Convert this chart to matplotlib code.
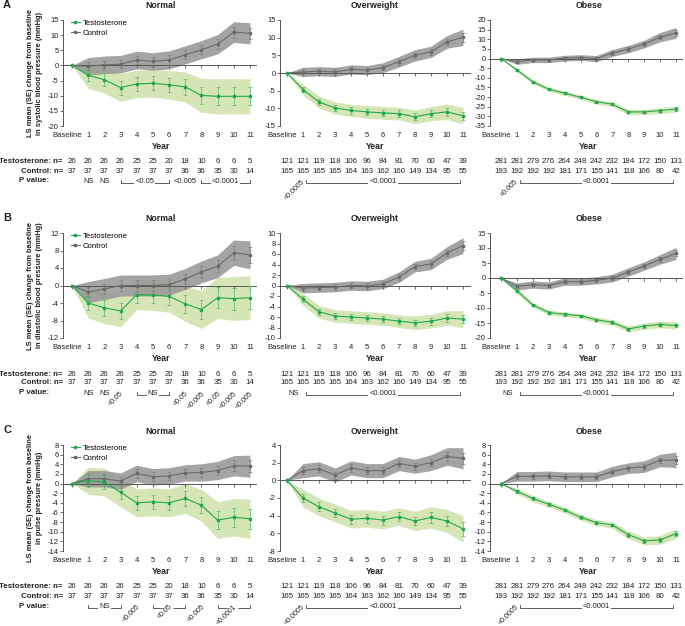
import numpy as np
import matplotlib
matplotlib.use("Agg")
import matplotlib.pyplot as plt
from matplotlib.lines import Line2D

plt.rcParams["font.family"] = ["Liberation Sans", "DejaVu Sans"]
plt.rcParams["axes.unicode_minus"] = False

# -----------------------------
# Data
# -----------------------------
years = np.arange(12)
year_labels = ["Baseline"] + [str(i) for i in range(1, 12)]

# A: systolic blood pressure
sbp_normal_t = [0, -3.3, -4.7, -7.3, -6.1, -5.9, -6.4, -7.1, -9.9, -10.2, -10.2, -10.2]
sbp_normal_t_se = [0, 2.0, 2.1, 2.3, 2.2, 2.3, 2.4, 2.5, 2.8, 3.0, 3.0, 3.0]
sbp_normal_t_ci = [0, 4.3, 4.4, 4.6, 4.5, 4.6, 4.7, 5.0, 5.6, 5.8, 5.8, 5.8]
sbp_normal_c = [0, -0.3, 0.2, 0.4, 1.8, 1.3, 1.8, 3.5, 5.2, 7.0, 11.0, 10.6]
sbp_normal_c_se = [0, 1.3, 1.4, 1.4, 1.4, 1.4, 1.5, 1.5, 1.5, 1.6, 1.8, 1.9]
sbp_normal_c_ci = [0, 2.9, 2.9, 2.9, 2.9, 2.9, 3.0, 3.0, 3.0, 3.2, 3.4, 3.5]

sbp_overweight_t = [0, -4.7, -8.2, -9.9, -10.6, -11.0, -11.3, -11.5, -12.4, -11.5, -11.0, -12.1]
sbp_overweight_t_se = [0, 0.8, 0.9, 0.9, 0.9, 0.9, 0.9, 0.9, 1.0, 1.0, 1.1, 1.2]
sbp_overweight_t_ci = [0, 1.5, 1.7, 1.7, 1.7, 1.8, 1.8, 1.8, 1.9, 2.0, 2.2, 2.3]
sbp_overweight_c = [0, 0.3, 0.5, 0.3, 1.0, 0.8, 1.5, 3.2, 5.0, 6.0, 8.8, 10.1]
sbp_overweight_c_se = [0, 0.7, 0.7, 0.7, 0.7, 0.7, 0.7, 0.8, 0.8, 0.8, 0.9, 1.2]
sbp_overweight_c_ci = [0, 1.3, 1.3, 1.3, 1.3, 1.3, 1.4, 1.5, 1.6, 1.6, 1.8, 2.3]

sbp_obese_t = [0, -5.9, -12.1, -15.9, -18.0, -20.1, -22.4, -23.7, -27.7, -27.7, -27.0, -26.2]
sbp_obese_t_se = [0, 0.5, 0.5, 0.5, 0.5, 0.6, 0.6, 0.6, 0.7, 0.7, 0.8, 0.8]
sbp_obese_t_ci = [0, 1.0, 1.0, 1.0, 1.1, 1.1, 1.2, 1.2, 1.4, 1.4, 1.5, 1.6]
sbp_obese_c = [0, -1.6, -0.7, -0.7, 0.2, 0.5, 0.0, 2.9, 4.9, 7.5, 11.1, 13.3]
sbp_obese_c_se = [0, 0.7, 0.7, 0.7, 0.8, 0.8, 0.8, 0.9, 1.0, 1.0, 1.2, 1.4]
sbp_obese_c_ci = [0, 1.4, 1.4, 1.4, 1.5, 1.5, 1.6, 1.8, 1.9, 2.0, 2.4, 2.8]

# B: diastolic blood pressure
dbp_normal_t = [0, -4.0, -5.1, -5.8, -2.1, -2.2, -2.5, -4.2, -5.5, -2.8, -3.0, -2.8]
dbp_normal_t_se = [0, 1.7, 1.8, 1.9, 1.8, 1.8, 1.9, 2.0, 2.2, 2.4, 2.5, 2.6]
dbp_normal_t_ci = [0, 3.4, 3.6, 3.6, 3.4, 3.5, 3.6, 4.0, 4.3, 4.7, 5.0, 5.0]
dbp_normal_c = [0, -1.5, -0.8, 0.0, 0.0, 0.0, 0.2, 1.5, 3.1, 4.4, 7.5, 7.0]
dbp_normal_c_se = [0, 1.2, 1.2, 1.2, 1.2, 1.2, 1.2, 1.2, 1.3, 1.4, 1.6, 1.8]
dbp_normal_c_ci = [0, 2.4, 2.4, 2.4, 2.4, 2.4, 2.4, 2.4, 2.5, 2.6, 2.9, 3.2]

dbp_overweight_t = [0, -2.6, -5.0, -5.8, -6.0, -6.2, -6.4, -6.8, -7.1, -6.8, -6.2, -6.4]
dbp_overweight_t_se = [0, 0.6, 0.6, 0.6, 0.6, 0.6, 0.6, 0.6, 0.6, 0.7, 0.7, 0.8]
dbp_overweight_t_ci = [0, 1.1, 1.2, 1.2, 1.2, 1.2, 1.2, 1.2, 1.3, 1.3, 1.4, 1.6]
dbp_overweight_c = [0, -0.5, -0.4, -0.3, 0.0, -0.1, 0.3, 1.6, 3.6, 4.1, 6.2, 7.6]
dbp_overweight_c_se = [0, 0.5, 0.5, 0.5, 0.5, 0.5, 0.5, 0.5, 0.5, 0.5, 0.6, 0.8]
dbp_overweight_c_ci = [0, 0.9, 0.9, 0.9, 0.9, 0.9, 0.9, 1.0, 1.0, 1.1, 1.2, 1.5]

dbp_obese_t = [0, -4.3, -9.0, -11.5, -12.1, -12.6, -13.9, -14.8, -17.0, -16.0, -15.5, -15.8]
dbp_obese_t_se = [0, 0.4, 0.4, 0.4, 0.4, 0.4, 0.4, 0.4, 0.5, 0.5, 0.6, 0.6]
dbp_obese_t_ci = [0, 0.8, 0.8, 0.8, 0.8, 0.8, 0.9, 0.9, 1.0, 1.0, 1.1, 1.2]
dbp_obese_c = [0, -2.8, -2.2, -2.5, -1.2, -1.2, -0.8, 0.0, 2.0, 4.0, 6.2, 8.2]
dbp_obese_c_se = [0, 0.6, 0.6, 0.6, 0.6, 0.6, 0.6, 0.6, 0.7, 0.7, 0.8, 1.0]
dbp_obese_c_ci = [0, 1.2, 1.2, 1.2, 1.2, 1.2, 1.2, 1.3, 1.4, 1.4, 1.6, 2.0]

# C: pulse pressure
pp_normal_t = [0, 0.6, 0.3, -1.8, -4.0, -3.8, -4.0, -3.1, -4.5, -7.6, -7.0, -7.3]
pp_normal_t_se = [0, 1.4, 1.5, 1.5, 1.5, 1.5, 1.5, 1.6, 1.7, 1.9, 2.0, 2.1]
pp_normal_t_ci = [0, 2.8, 2.9, 3.0, 2.9, 2.9, 2.9, 3.1, 3.3, 3.8, 3.9, 4.1]
pp_normal_c = [0, 1.0, 1.0, 0.5, 2.1, 1.4, 1.6, 2.2, 2.3, 2.7, 3.7, 3.6]
pp_normal_c_se = [0, 0.9, 0.9, 0.9, 0.9, 0.9, 0.9, 0.9, 0.9, 1.0, 1.1, 1.2]
pp_normal_c_ci = [0, 1.7, 1.7, 1.7, 1.7, 1.7, 1.7, 1.7, 1.8, 1.9, 2.1, 2.3]

pp_overweight_t = [0, -2.0, -3.0, -3.7, -4.4, -4.3, -4.5, -4.1, -4.6, -4.2, -4.6, -5.5]
pp_overweight_t_se = [0, 0.5, 0.5, 0.5, 0.5, 0.5, 0.5, 0.5, 0.5, 0.6, 0.6, 0.8]
pp_overweight_t_ci = [0, 1.0, 1.0, 1.0, 1.0, 1.0, 1.0, 1.0, 1.1, 1.2, 1.3, 1.5]
pp_overweight_c = [0, 1.1, 1.3, 0.6, 1.4, 1.1, 1.1, 1.9, 1.6, 2.0, 2.7, 2.5]
pp_overweight_c_se = [0, 0.4, 0.4, 0.4, 0.4, 0.4, 0.4, 0.4, 0.4, 0.4, 0.5, 0.6]
pp_overweight_c_ci = [0, 0.8, 0.8, 0.8, 0.8, 0.8, 0.8, 0.8, 0.8, 0.9, 1.0, 1.2]

pp_obese_t = [0, -1.6, -3.1, -4.3, -5.5, -7.0, -8.1, -8.6, -10.6, -11.9, -11.7, -10.4]
pp_obese_t_se = [0, 0.3, 0.3, 0.3, 0.3, 0.3, 0.3, 0.3, 0.4, 0.4, 0.5, 0.5]
pp_obese_t_ci = [0, 0.6, 0.6, 0.6, 0.6, 0.6, 0.6, 0.7, 0.8, 0.8, 0.9, 1.0]
pp_obese_c = [0, 1.5, 1.5, 1.6, 1.4, 1.4, 1.4, 2.5, 3.2, 3.5, 4.8, 4.9]
pp_obese_c_se = [0, 0.5, 0.5, 0.5, 0.5, 0.5, 0.5, 0.5, 0.5, 0.6, 0.6, 0.8]
pp_obese_c_ci = [0, 1.0, 1.0, 1.0, 1.0, 1.0, 1.0, 1.1, 1.1, 1.2, 1.3, 1.6]

# patient numbers (same in every row)
normal_n_t = [26, 26, 26, 26, 25, 25, 20, 18, 10, 6, 6, 5]
normal_n_c = [37, 37, 37, 37, 37, 37, 37, 36, 36, 35, 30, 14]
overweight_n_t = [121, 121, 119, 118, 106, 96, 84, 81, 70, 60, 47, 39]
overweight_n_c = [165, 165, 165, 165, 164, 163, 162, 160, 149, 134, 95, 55]
obese_n_t = [281, 281, 279, 276, 264, 248, 242, 232, 184, 172, 150, 131]
obese_n_c = [193, 192, 192, 192, 181, 171, 155, 141, 118, 106, 80, 42]

# p values: (from year, to year, text, rotation)
sbp_normal_p = [(1, 1, "NS", 0), (2, 2, "NS", 0), (3, 6, "<0.05", 0),
                (7, 7, "<0.005", 0), (8, 11, "<0.0001", 0)]
sbp_overweight_p = [(0.9, 0.9, "<0.0005", 45), (1.2, 10.8, "<0.0001", 0)]
sbp_obese_p = [(0.9, 0.9, "<0.005", 45), (1.2, 10.8, "<0.0001", 0)]
dbp_normal_p = [(1, 1, "NS", 0), (2, 2, "NS", 0), (3, 3, "<0.05", 45), (4, 6, "NS", 0),
                (7, 7, "<0.05", 45), (8, 8, "<0.005", 45), (9, 9, "<0.05", 45),
                (10, 10, "<0.005", 45), (11, 11, "<0.005", 45)]
dbp_overweight_p = [(0.4, 0.4, "NS", 0), (1.2, 10.8, "<0.0001", 0)]
dbp_obese_p = [(0.4, 0.4, "NS", 0), (1.2, 10.8, "<0.0001", 0)]
pp_normal_p = [(1, 3, "NS", 0), (4, 4, "<0.005", 45), (5, 7, "<0.05", 45),
               (8, 8, "<0.005", 45), (9, 11, "<0.0001", 45)]
pp_overweight_p = [(0.9, 0.9, "<0.0005", 45), (1.2, 10.8, "<0.0001", 0)]
pp_obese_p = [(0.9, 0.9, "<0.0005", 45), (1.2, 10.8, "<0.0001", 0)]

row_ylabels = {
    "A": "LS mean (SE) change from baseline\nin systolic blood pressure (mmHg)",
    "B": "LS mean (SE) change from baseline\nin diastolic blood pressure (mmHg)",
    "C": "LS mean (SE) change from baseline\nin pulse pressure (mmHg)",
}

# -----------------------------
# Style / layout (pixels)
# -----------------------------
W, H = 685, 626
GREEN = "#1fa94a"
GREEN_ERR = "#52b865"
GREEN_BAND = "#cfe1a8"
GRAY = "#6a6a6a"
GRAY_ERR = "#7c7c7c"
GRAY_BAND = "#949494"
AXIS = "#555555"
TXT = "#222222"

# spine x, baseline x, year-11 x, right end
col_px = {"Normal": (63, 72, 250, 256),
          "Overweight": (280, 287, 463, 470),
          "Obese": (490, 501, 676, 682)}
# axis top, axis bottom
row_px = {"A": (20, 126), "B": (233, 338), "C": (445, 551)}


def fx(px):
    return px / W


def fy(py):
    return 1 - py / H


def year_px(col, yr):
    left, x0, x11, right = col_px[col]
    return x0 + yr * (x11 - x0) / 11.0


def draw_panel(fig, row, col, t, t_se, t_ci, c, c_se, c_ci, ylim, ystep,
               pvals, n_t, n_c):
    left, x0, x11, right = col_px[col]
    top, bottom = row_px[row]
    ax = fig.add_axes([fx(left), fy(bottom), (right - left) / W, (bottom - top) / H])

    t, t_se, t_ci = np.array(t), np.array(t_se), np.array(t_ci)
    c, c_se, c_ci = np.array(c), np.array(c_se), np.array(c_ci)

    ax.fill_between(years, t - t_ci, t + t_ci, color=GREEN_BAND, alpha=0.85, lw=0, zorder=1)
    ax.fill_between(years, c - c_ci, c + c_ci, color=GRAY_BAND, alpha=0.85, lw=0, zorder=1.2)

    ax.errorbar(years[1:], c[1:], yerr=c_se[1:], fmt="none", ecolor=GRAY_ERR,
                elinewidth=0.5, capsize=1.3, capthick=0.5, zorder=3)
    ax.plot(years, c, color=GRAY, lw=0.8, marker="s", ms=1.8, zorder=4)
    ax.errorbar(years[1:], t[1:], yerr=t_se[1:], fmt="none", ecolor=GREEN_ERR,
                elinewidth=0.5, capsize=1.3, capthick=0.5, zorder=3)
    ax.plot(years, t, color=GREEN, lw=0.8, marker="s", ms=1.8, zorder=4)

    scale = (x11 - x0) / 11.0
    ax.set_xlim((left - x0) / scale, (right - x0) / scale)
    ax.set_ylim(*ylim)
    ax.set_yticks(np.arange(ylim[0], ylim[1] + ystep / 2, ystep))
    ax.set_xticks(years)

    for s in ["top", "right"]:
        ax.spines[s].set_visible(False)
    ax.spines["bottom"].set_position(("data", 0))
    ax.spines["bottom"].set_zorder(2)
    for s in ["bottom", "left"]:
        ax.spines[s].set_color(AXIS)
        ax.spines[s].set_linewidth(0.7)
    ax.tick_params(axis="x", labelbottom=False, length=2, width=0.6, color=AXIS)
    ax.tick_params(axis="y", labelsize=5.5, length=2, width=0.6, color=AXIS,
                   labelcolor=TXT, pad=1)
    ax.patch.set_alpha(0)

    # x tick labels, axis title, panel title
    for yr, lab in zip(years, year_labels):
        if yr == 0:
            fig.text(fx(year_px(col, yr) + 10), fy(bottom + 9.5), lab, ha="right",
                     va="center", fontsize=5.5, color=TXT)
        else:
            fig.text(fx(year_px(col, yr)), fy(bottom + 9.5), lab, ha="center",
                     va="center", fontsize=5.5, color=TXT)
    xmid = fx(year_px(col, 5.5))
    fig.text(xmid, fy(bottom + 20.5), "Year", ha="center", va="center",
             fontsize=6.3, fontweight="bold", color=TXT)
    fig.text(xmid, fy(top - 14), col, ha="center", va="center",
             fontsize=6.3, fontweight="bold", color=TXT)

    # n table
    for yr in years:
        fig.text(fx(year_px(col, yr)), fy(bottom + 36), str(n_t[yr]), ha="center",
                 va="center", fontsize=5.7, color=TXT)
        fig.text(fx(year_px(col, yr)), fy(bottom + 45), str(n_c[yr]), ha="center",
                 va="center", fontsize=5.7, color=TXT)

    # p values
    py = bottom + 55
    for start, end, label, rot in pvals:
        xs, xe = year_px(col, start), year_px(col, end)
        xc = (xs + xe) / 2
        if end > start:
            fig.add_artist(Line2D([fx(xs), fx(xs), fx(xe), fx(xe)],
                                  [fy(py - 1.5), fy(py + 1.8), fy(py + 1.8), fy(py - 1.5)],
                                  transform=fig.transFigure, color="#444444", lw=0.6))
        if rot:
            fig.text(fx(xc + 2), fy(py - 0.5), label, rotation=rot, rotation_mode="anchor",
                     ha="right", va="center", fontsize=5.0, color=TXT,
                     bbox=dict(boxstyle="square,pad=0.05", fc="white", ec="none"))
        else:
            fig.text(fx(xc), fy(py + 0.5), label, ha="center", va="center", fontsize=5.5,
                     color=TXT, bbox=dict(boxstyle="square,pad=0.15", fc="white", ec="none"))

    if col == "Normal":
        handles = [Line2D([0], [0], color=GREEN, lw=0.8, marker="s", ms=2),
                   Line2D([0], [0], color=GRAY, lw=0.8, marker="s", ms=2)]
        fig.legend(handles, ["Testosterone", "Control"], loc="upper left",
                   bbox_to_anchor=(fx(71), fy(top - 0.5)), bbox_transform=fig.transFigure,
                   frameon=False, fontsize=5.6, handlelength=1.1, handletextpad=0.45,
                   labelspacing=0.35, borderpad=0, borderaxespad=0)
        fig.text(fx(63), fy(bottom + 36), "Testosterone: n=", ha="right", va="center",
                 fontsize=5.7, fontweight="bold", color=TXT)
        fig.text(fx(63), fy(bottom + 45), "Control: n=", ha="right", va="center",
                 fontsize=5.7, fontweight="bold", color=TXT)
        fig.text(fx(19), fy(bottom + 55), "P value:", ha="left", va="center",
                 fontsize=5.7, fontweight="bold", color=TXT)
        fig.text(fx(35), fy((top + bottom) / 2), row_ylabels[row], rotation=90,
                 ha="center", va="center", multialignment="center", fontsize=5.4,
                 fontweight="bold", color=TXT, linespacing=1.25)
        fig.text(fx(3), fy(top - 15), row, ha="left", va="center", fontsize=8,
                 fontweight="bold", color=TXT)
    return ax


fig = plt.figure(figsize=(W / 100, H / 100), dpi=100)

panels = [
    ("A", "Normal", sbp_normal_t, sbp_normal_t_se, sbp_normal_t_ci,
     sbp_normal_c, sbp_normal_c_se, sbp_normal_c_ci, (-20, 15), 5, sbp_normal_p),
    ("A", "Overweight", sbp_overweight_t, sbp_overweight_t_se, sbp_overweight_t_ci,
     sbp_overweight_c, sbp_overweight_c_se, sbp_overweight_c_ci, (-15, 15), 5, sbp_overweight_p),
    ("A", "Obese", sbp_obese_t, sbp_obese_t_se, sbp_obese_t_ci,
     sbp_obese_c, sbp_obese_c_se, sbp_obese_c_ci, (-35, 20), 5, sbp_obese_p),
    ("B", "Normal", dbp_normal_t, dbp_normal_t_se, dbp_normal_t_ci,
     dbp_normal_c, dbp_normal_c_se, dbp_normal_c_ci, (-12, 12), 4, dbp_normal_p),
    ("B", "Overweight", dbp_overweight_t, dbp_overweight_t_se, dbp_overweight_t_ci,
     dbp_overweight_c, dbp_overweight_c_se, dbp_overweight_c_ci, (-10, 10), 2, dbp_overweight_p),
    ("B", "Obese", dbp_obese_t, dbp_obese_t_se, dbp_obese_t_ci,
     dbp_obese_c, dbp_obese_c_se, dbp_obese_c_ci, (-20, 15), 5, dbp_obese_p),
    ("C", "Normal", pp_normal_t, pp_normal_t_se, pp_normal_t_ci,
     pp_normal_c, pp_normal_c_se, pp_normal_c_ci, (-14, 8), 2, pp_normal_p),
    ("C", "Overweight", pp_overweight_t, pp_overweight_t_se, pp_overweight_t_ci,
     pp_overweight_c, pp_overweight_c_se, pp_overweight_c_ci, (-8, 4), 2, pp_overweight_p),
    ("C", "Obese", pp_obese_t, pp_obese_t_se, pp_obese_t_ci,
     pp_obese_c, pp_obese_c_se, pp_obese_c_ci, (-14, 8), 2, pp_obese_p),
]

n_tables = {"Normal": (normal_n_t, normal_n_c),
            "Overweight": (overweight_n_t, overweight_n_c),
            "Obese": (obese_n_t, obese_n_c)}

for row, col, t, t_se, t_ci, c, c_se, c_ci, ylim, ystep, pvals in panels:
    n_t, n_c = n_tables[col]
    draw_panel(fig, row, col, t, t_se, t_ci, c, c_se, c_ci, ylim, ystep, pvals, n_t, n_c)

fig.savefig("out.png", dpi=100)
